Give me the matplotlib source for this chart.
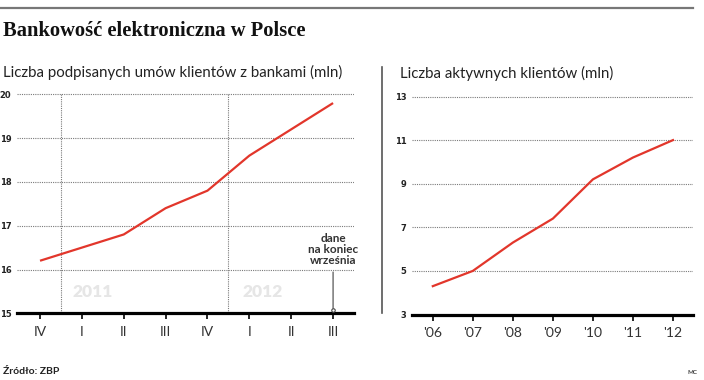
import numpy as np
import matplotlib
matplotlib.use('Agg')
from matplotlib import pyplot as plt
from matplotlib.lines import Line2D

# Data
quarters = ['IV', 'I', 'II', 'III', 'IV', 'I', 'II', 'III']
contracts = [16.2, 16.5, 16.8, 17.4, 17.8, 18.6, 19.2, 19.8]
years = ["'06", "'07", "'08", "'09", "'10", "'11", "'12"]
active = [4.3, 5.0, 6.3, 7.4, 9.2, 10.2, 11.0]
left_yticks = [15, 16, 17, 18, 19, 20]
right_yticks = [3, 5, 7, 9, 11, 13]
year_marks = ['2011', '2012']

W, H = 704, 380
RED = '#e2362b'
GRID = '#7a7a7a'
SANS = 'Lato'

fig = plt.figure(figsize=(W / 100, H / 100), dpi=100)
fig.patch.set_facecolor('white')


def px_axes(left, right, top, bottom):
    return fig.add_axes([left / W, (H - bottom) / H, (right - left) / W, (bottom - top) / H])


def style_axes(ax, yticks):
    for s in ['top', 'right', 'left']:
        ax.spines[s].set_visible(False)
    ax.spines['bottom'].set_linewidth(2.3)
    ax.spines['bottom'].set_color('black')
    ax.set_yticks(yticks)
    ax.set_yticklabels([str(t) for t in yticks], fontsize=6, fontweight='bold',
                       family='DejaVu Sans', color='#222')
    ax.tick_params(axis='y', length=0, pad=4)
    ax.tick_params(axis='x', length=4, width=1.2, color='black', pad=5,
                   labelsize=10, labelcolor='#333')
    ax.grid(axis='y', linestyle=(0, (1, 1)), color=GRID, lw=0.8)
    ax.set_axisbelow(True)


# top rule and titles
fig.add_artist(Line2D([0, 693 / W], [1 - 8 / H, 1 - 8 / H], color='#777', lw=1.6))
fig.text(3 / W, 1 - 31 / H, 'Bankowość elektroniczna w Polsce', fontsize=14.8,
         fontweight='bold', family='Liberation Serif', va='center', color='#111')
fig.text(3 / W, 1 - 72 / H, 'Liczba podpisanych umów klientów z bankami (mln)',
         fontsize=10.8, family=SANS, va='center', color='#222')
fig.text(400 / W, 1 - 73 / H, 'Liczba aktywnych klientów (mln)',
         fontsize=10.8, family=SANS, va='center', color='#222')

# separator
fig.add_artist(Line2D([382 / W, 382 / W], [1 - 67 / H, 1 - 313 / H], color='#555', lw=1.2))

# Left chart
ax1 = px_axes(17, 354, 313.3 - 5.1 * 43.8, 313.3)
x1 = np.arange(len(quarters))
ax1.set_xlim(-0.55, 7.5)
ax1.set_ylim(15, 20.1)
style_axes(ax1, left_yticks)
ax1.set_xticks(x1)
ax1.set_xticklabels(quarters, family=SANS)
ax1.vlines([0.5, 4.5], 15, 20, colors=GRID, linestyles=(0, (1, 1)), lw=0.8, zorder=0)
ax1.text(0.77, 15.49, year_marks[0], fontsize=12.5, fontweight='heavy', family=SANS,
         color='#e6e6e6', va='center', ha='left', zorder=0)
ax1.text(4.83, 15.49, year_marks[1], fontsize=12.5, fontweight='heavy', family=SANS,
         color='#e6e6e6', va='center', ha='left', zorder=0)
ax1.plot(x1, contracts, color=RED, lw=1.6, solid_capstyle='butt', zorder=3)
last = len(quarters) - 1
ax1.annotate('dane\nna koniec\nwrześnia', xy=(last, 15.08), xytext=(last, 16.07),
             ha='center', va='bottom', fontsize=8.5, fontweight='bold', family=SANS,
             color='#333', linespacing=1.0,
             arrowprops=dict(arrowstyle='-', color='#444', lw=0.8, shrinkA=2, shrinkB=1))
ax1.plot(last, 15.08, 'o', ms=2.5, mfc='white', mec='#444', mew=0.8, zorder=4)

# Right chart
ax2 = px_axes(412, 693, 314.5 - 10.2 * 21.8, 314.5)
x2 = np.arange(len(years))
ax2.set_xlim(-0.52, 6.5)
ax2.set_ylim(3, 13.2)
style_axes(ax2, right_yticks)
ax2.set_xticks(x2)
ax2.set_xticklabels(years, family=SANS)
ax2.plot(x2, active, color=RED, lw=1.6, zorder=3)

# footer
fig.text(3 / W, 1 - 371 / H, 'Źródło: ZBP', fontsize=7.5, fontweight='bold',
         family=SANS, va='center', color='#222')
fig.text(688 / W, 1 - 372 / H, 'MC', fontsize=4.5, fontweight='bold',
         family=SANS, va='center', color='#444')

fig.savefig('out.png', dpi=100)
